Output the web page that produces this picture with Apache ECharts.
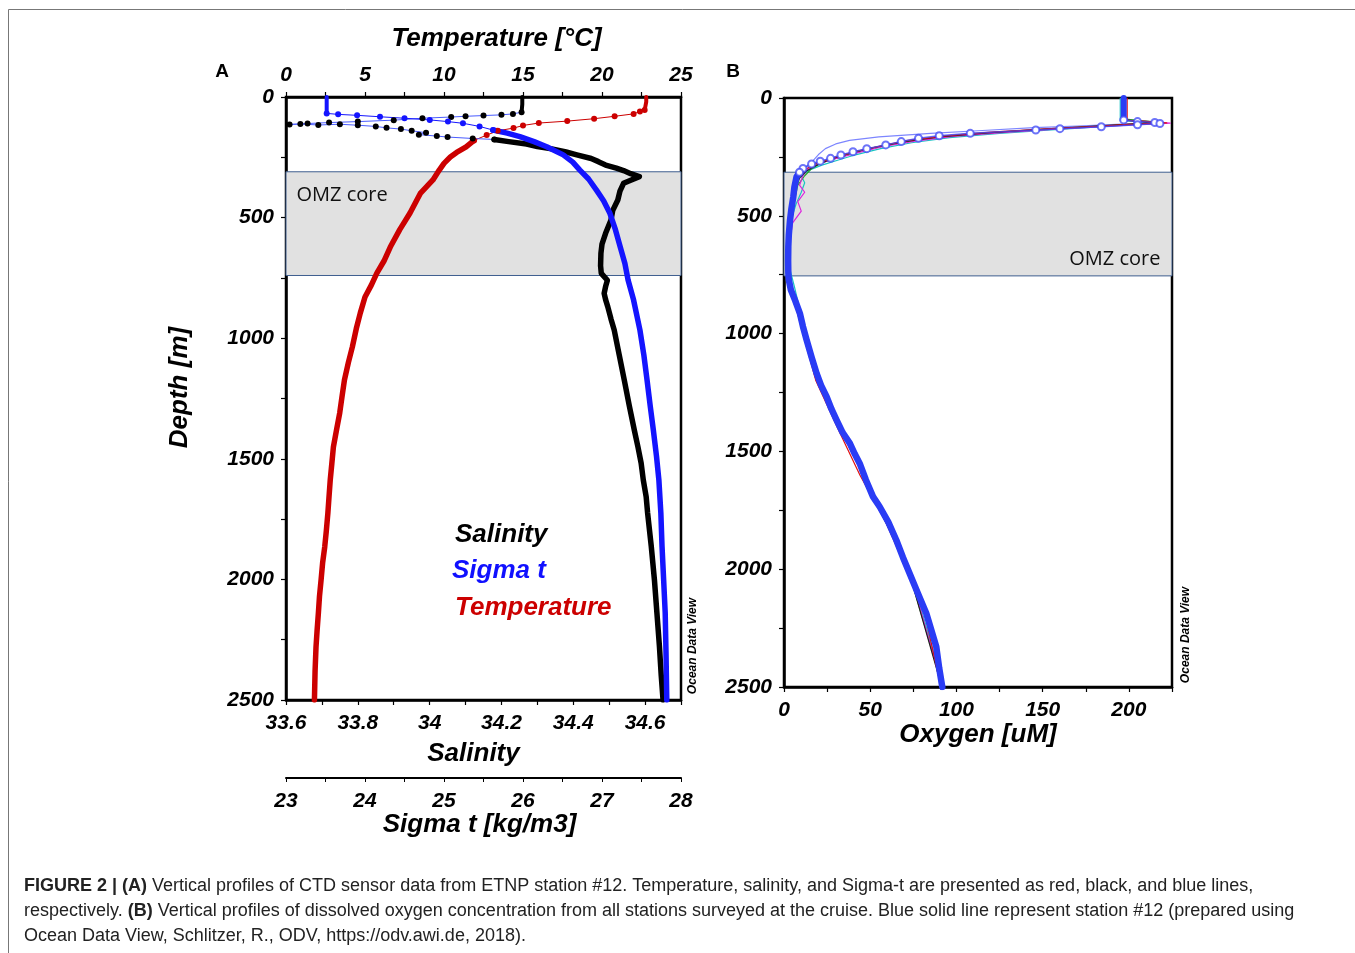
<!DOCTYPE html>
<html><head><meta charset="utf-8">
<script src="https://cdn.jsdelivr.net/npm/echarts@6/dist/echarts.min.js"></script>
<style>html,body{margin:0;padding:0;background:#fff}#c{width:1355px;height:953px}</style>
</head><body><div id="c"></div>
<script>
// ---- tick labels ----
const depthTicks = [0, 500, 1000, 1500, 2000, 2500];
const tempTicks = [0, 5, 10, 15, 20, 25];
const salTicks = [33.6, 33.8, 34, 34.2, 34.4, 34.6];
const salMax = 34.7;
const sigmaTicks = [23, 24, 25, 26, 27, 28];
const oxyTicks = [0, 50, 100, 150, 200];
const oxyMax = 225;

// ---- OMZ core band (depth m) ----
const omzA = [310, 740];
const omzB = [315, 755];

// ---- Panel A: station #12 CTD profiles  [depth m, value] ----
const temperature = [[0,22.8],[20,22.8],[54,22.7],[60,22.4],[70,22.0],[80,20.8],[90,19.5],[100,17.8],[108,16.0],[118,15.0],[129,14.4],[140,13.4],[158,12.7],[180,11.9],[207,11.4],[230,10.8],[249,10.4],[275,10.0],[303,9.7],[344,9.3],[400,8.5],[481,7.85],[550,7.2],[622,6.6],[680,6.2],[730,5.75],[780,5.4],[829,5.0],[896,4.7],[960,4.45],[1036,4.2],[1100,3.95],[1173,3.7],[1240,3.55],[1310,3.4],[1380,3.2],[1451,3.0],[1520,2.9],[1588,2.8],[1660,2.72],[1725,2.65],[1800,2.55],[1866,2.45],[1930,2.32],[2002,2.22],[2070,2.12],[2139,2.05],[2210,1.97],[2280,1.9],[2380,1.84],[2500,1.8]];
const salinity = [[0,34.258],[30,34.258],[63,34.256],[70,34.232],[74,34.2],[77,34.15],[80,34.1],[83,34.06],[88,33.98],[96,33.9],[102,33.8],[106,33.72],[110,33.66],[114,33.61],[112,33.64],[116,33.69],[113,33.75],[117,33.8],[122,33.85],[128,33.88],[133,33.92],[140,33.95],[148,33.99],[156,33.97],[162,34.02],[166,34.05],[172,34.12],[176,34.18],[185,34.22],[195,34.27],[205,34.3],[215,34.34],[228,34.38],[240,34.41],[255,34.45],[268,34.47],[282,34.49],[295,34.52],[305,34.54],[318,34.56],[330,34.584],[345,34.56],[358,34.54],[390,34.53],[427,34.524],[470,34.51],[510,34.505],[565,34.49],[610,34.48],[648,34.477],[700,34.476],[731,34.478],[760,34.495],[786,34.49],[814,34.486],[840,34.49],[869,34.496],[920,34.505],[966,34.514],[1070,34.528],[1173,34.542],[1280,34.556],[1381,34.57],[1450,34.58],[1518,34.589],[1588,34.595],[1657,34.603],[1725,34.607],[1860,34.617],[2002,34.626],[2140,34.633],[2279,34.64],[2400,34.645],[2500,34.65]];
const sigmaT = [[0,23.515],[40,23.515],[68,23.515],[72,23.66],[76,23.9],[82,24.19],[88,24.5],[95,24.82],[102,25.05],[109,25.24],[122,25.45],[137,25.62],[150,25.8],[164,25.96],[185,26.14],[206,26.3],[240,26.51],[270,26.63],[303,26.72],[340,26.83],[386,26.93],[430,27.02],[482,27.1],[550,27.17],[621,27.23],[690,27.29],[759,27.33],[842,27.4],[966,27.48],[1070,27.53],[1173,27.57],[1280,27.61],[1381,27.65],[1490,27.69],[1588,27.72],[1725,27.745],[1864,27.76],[2000,27.78],[2139,27.8],[2300,27.81],[2500,27.82]];

// ---- Panel B: dissolved oxygen [depth m, uM] ----
const oxyStation12 = [[0,197],[50,197],[93,197],[100,205],[104,215],[108,218],[114,205],[122,184],[130,160],[136,146],[150,108],[160,90],[171,78],[185,68],[199,59],[215,48],[228,40],[242,33],[256,27],[268,21],[280,16],[299,11],[315,9],[334,7.3],[380,6],[419,5.4],[470,4.3],[518,3.5],[580,2.8],[631,2.5],[690,2.4],[744,2.5],[772,2.8],[815,4.0],[860,6.5],[914,9.2],[970,11],[1027,13.1],[1100,16],[1169,18.9],[1220,21.5],[1268,24.7],[1320,27.5],[1367,30.5],[1420,34],[1466,38.2],[1510,41],[1551,43.9],[1621,47.5],[1692,51.6],[1735,55.5],[1800,60.5],[1876,65.1],[1950,69],[2017,72.8],[2100,77.5],[2187,82.5],[2260,85.5],[2329,88.3],[2420,90],[2500,91.8]];
const oxyRed = [[0,199],[95,199],[100,212],[106,222],[112,200],[120,182],[130,155],[145,120],[160,95],[180,72],[205,55],[230,40],[255,28],[280,18],[300,13],[330,9],[380,6],[450,4.5],[550,3],[650,2.3],[750,2.2],[850,5.5],[1000,11],[1200,18.5],[1400,31],[1600,44],[1800,59],[2000,71],[2200,82],[2500,91]];
const oxyGreen = [[0,198],[90,198],[98,210],[104,220],[110,205],[118,188],[128,165],[140,135],[155,108],[175,80],[200,60],[225,45],[250,33],[275,22],[300,16],[330,12],[370,8],[420,6.5],[500,4.5],[600,3.2],[700,2.8],[800,4.5],[1000,12],[1200,19.5],[1500,40],[2000,72],[2500,92]];
const oxyBlack = [[0,196],[92,196],[100,208],[106,214],[112,198],[120,178],[132,150],[148,118],[165,90],[185,70],[210,52],[235,38],[260,27],[285,19],[310,13],[340,9],[400,6],[480,4],[580,3],[700,2.5],[820,4.8],[1000,11.5],[1200,19],[1500,39.5],[2000,72],[2500,91.5]];
const oxyCyan = [[0,195],[96,195],[102,209],[108,217],[114,200],[124,180],[135,155],[150,125],[168,96],[190,74],[215,56],[240,42],[262,32],[285,22],[305,15],[330,10],[360,12],[400,10],[450,7],[520,4],[620,3],[720,3.2],[800,6],[1000,12.5],[1200,20],[1500,40.5],[2000,73],[2500,92.5]];
const oxyMagenta = [[0,198],[94,198],[101,213],[107,224],[113,205],[121,186],[131,160],[146,128],[163,98],[183,76],[207,57],[232,43],[257,30],[280,20],[300,14],[330,11],[370,9],[400,12],[440,8],[480,10],[530,5],[600,3.5],[700,2.6],[800,4.2],[1000,11],[1200,18.8],[1500,39],[2000,72.5],[2500,91.8]];
const oxyLightBlue = [[0,197],[92,197],[99,211],[105,219],[111,196],[119,170],[126,145],[138,115],[150,85],[165,55],[180,38],[195,30],[215,24],[240,20],[265,17],[290,13],[310,9],[350,6],[420,4.5],[520,3.5],[640,2.8],[760,3],[850,6],[1000,12],[1200,19.5],[1500,40],[2000,72.5],[2500,92]];

// ---------------------------------------------------------------
const FONT = '"Liberation Sans", Arial, Helvetica, sans-serif';
const lab = {fontFamily: FONT, fontSize: 21, fontWeight: 'bold', fontStyle: 'italic', color: '#000'};
const nameStyle = pad => ({fontFamily: FONT, fontSize: 26, fontWeight: 'bold', fontStyle: 'italic', color: '#000', padding: pad || 0});
const fmt = ticks => v => { const t = ticks.find(t => Math.abs(t - v) < 1e-6); return t === undefined ? '' : String(t); };
const step = t => +((t[1] - t[0]) / 2).toFixed(6);

function axis(extra) {
  return Object.assign({
    type: 'value', splitLine: {show: false}, nameMoveOverlap: false,
    axisLine: {show: true, onZero: false, lineStyle: {color: '#000', width: 2.5}},
    axisTick: {show: true, length: 5, lineStyle: {color: '#000', width: 1.2}}
  }, extra);
}
const xy = arr => arr.map(p => [p[1], p[0]]);
function split(arr, lo, hi) {
  return {
    top: arr.filter(p => p[0] <= lo),
    mid: arr.filter(p => p[0] >= lo && p[0] <= hi),
    bot: arr.filter(p => p[0] >= hi)
  };
}
function thick(data, color, xi, yi, w, z) {
  return {type: 'line', xAxisIndex: xi, yAxisIndex: yi, data: xy(data), showSymbol: false, symbol: 'none',
    lineStyle: {color, width: w, cap: 'round', join: 'round'}, z: z || 3, silent: true};
}
function dots(data, color, xi, yi, lineColor, z) {
  return {type: 'line', xAxisIndex: xi, yAxisIndex: yi, data: xy(data), showSymbol: true, symbol: 'circle', symbolSize: 6,
    itemStyle: {color}, lineStyle: {color: lineColor || color, width: 1}, z: z || 3, silent: true};
}
function band(range, xi, yi, pos, dist, off) {
  return {type: 'line', xAxisIndex: xi, yAxisIndex: yi, data: [[NaN, NaN]], symbol: 'none', z: 1, silent: true,
    lineStyle: {opacity: 0},
    markArea: {silent: true,
      itemStyle: {color: '#e1e1e1', borderColor: '#3f5f8f', borderWidth: 1},
      label: {show: true, position: pos, distance: dist, offset: off, formatter: 'OMZ core', fontFamily: '"Open Sans", "Noto Sans", sans-serif', fontSize: 20, color: '#111'},
      data: [[{yAxis: range[0]}, {yAxis: range[1]}]]}};
}

const T = split(temperature, 54, 180);
const S = split(salinity, 63, 176);
const G = split(sigmaT, 68, 137);
const O = split(oxyStation12, 93, 315);

const RED = '#cc0000', BLUE = '#1414ff', BLK = '#000';

const option = {
  animation: false,
  backgroundColor: '#fff',
  grid: [
    {left: 286, top: 97, width: 395, height: 603, show: true, borderColor: '#000', borderWidth: 2.5, backgroundColor: 'transparent'},
    {left: 784, top: 98, width: 388, height: 589, show: true, borderColor: '#000', borderWidth: 2.5, backgroundColor: 'transparent'}
  ],
  xAxis: [
    axis({gridIndex: 0, position: 'top', min: tempTicks[0], max: tempTicks[tempTicks.length - 1], interval: step(tempTicks),
      axisLabel: Object.assign({formatter: fmt(tempTicks), margin: 11}, lab),
      name: 'Temperature [°C]', nameLocation: 'middle', nameGap: 45, nameTextStyle: nameStyle([0, 0, 0, 26])}),
    axis({gridIndex: 0, position: 'bottom', min: salTicks[0], max: salMax, interval: step(salTicks),
      axisLabel: Object.assign({formatter: fmt(salTicks), margin: 13}, lab),
      name: 'Salinity', nameLocation: 'middle', nameGap: 41, nameTextStyle: nameStyle([0, 20, 0, 0])}),
    axis({gridIndex: 0, position: 'bottom', offset: 78, min: sigmaTicks[0], max: sigmaTicks[sigmaTicks.length - 1], interval: step(sigmaTicks),
      axisLine: {show: true, onZero: false, lineStyle: {color: '#000', width: 2}},
      axisTick: {show: true, length: 4, lineStyle: {color: '#000', width: 1}},
      axisLabel: Object.assign({formatter: fmt(sigmaTicks), margin: 13}, lab),
      name: 'Sigma t [kg/m3]', nameLocation: 'middle', nameGap: 34, nameTextStyle: nameStyle([0, 8, 0, 0])}),
    axis({gridIndex: 1, position: 'bottom', min: oxyTicks[0], max: oxyMax, interval: step(oxyTicks),
      axisLabel: Object.assign({formatter: fmt(oxyTicks), margin: 13}, lab),
      name: 'Oxygen [uM]', nameLocation: 'middle', nameGap: 35, nameTextStyle: nameStyle()})
  ],
  yAxis: [
    axis({gridIndex: 0, inverse: true, min: depthTicks[0], max: depthTicks[depthTicks.length - 1], interval: step(depthTicks),
      axisLabel: Object.assign({formatter: fmt(depthTicks), margin: 12}, lab),
      name: 'Depth [m]', nameLocation: 'middle', nameGap: 93, nameTextStyle: nameStyle([0, 0, 0, 22])}),
    axis({gridIndex: 1, inverse: true, min: depthTicks[0], max: depthTicks[depthTicks.length - 1], interval: step(depthTicks),
      axisLabel: Object.assign({formatter: fmt(depthTicks), margin: 12}, lab)})
  ],
  series: [
    band(omzA, 0, 0, 'insideTopLeft', 11, [0, 3]),
    band(omzB, 3, 1, 'insideBottomRight', 10, [-2, 3]),
    // Panel A
    thick(T.top, RED, 0, 0, 4), dots(T.mid, RED, 0, 0), thick(T.bot, RED, 0, 0, 5.5),
    thick(S.top, BLK, 1, 0, 4), dots(S.mid, BLK, 1, 0, '#4a5cff'), thick(S.bot, BLK, 1, 0, 5.5),
    thick(G.top, BLUE, 2, 0, 4), dots(G.mid, BLUE, 2, 0), thick(G.bot, BLUE, 2, 0, 5.5),
    // Panel B
    thick(oxyLightBlue, '#7d86ff', 3, 1, 1.2, 2),
    thick(oxyCyan, '#19c4c4', 3, 1, 1.2, 2),
    thick(oxyGreen, '#22aa22', 3, 1, 1.2, 2),
    thick(oxyMagenta, '#dd22dd', 3, 1, 1.2, 2),
    thick(oxyBlack, '#222', 3, 1, 1.2, 2),
    thick(oxyRed, '#e01010', 3, 1, 1.2, 2),
    thick(O.top, '#2a3cf5', 3, 1, 6, 3),
    {type: 'line', xAxisIndex: 3, yAxisIndex: 1, data: xy(O.mid), showSymbol: true, symbol: 'emptyCircle', symbolSize: 7,
      itemStyle: {color: 'rgba(60,70,245,0.75)', borderWidth: 1.2}, lineStyle: {color: 'rgba(60,70,245,0.8)', width: 1.5}, z: 3, silent: true},
    thick(O.bot, '#2a3cf5', 3, 1, 6.5, 3)
  ],
  graphic: [
    {type: 'rect', shape: {x: 8.5, y: 9.5, width: 1400, height: 1000}, style: {fill: 'none', stroke: '#777', lineWidth: 1}, silent: true},
    {type: 'text', style: {text: 'A', x: 222, y: 72, fontFamily: FONT, fontSize: 19, fontWeight: 'bold', fill: '#000', align: 'center', verticalAlign: 'middle'}},
    {type: 'text', style: {text: 'B', x: 733, y: 72, fontFamily: FONT, fontSize: 19, fontWeight: 'bold', fill: '#000', align: 'center', verticalAlign: 'middle'}},
    {type: 'text', style: {text: 'Salinity', x: 455, y: 535, fontFamily: FONT, fontSize: 26, fontWeight: 'bold', fontStyle: 'italic', fill: '#000', align: 'left', verticalAlign: 'middle'}},
    {type: 'text', style: {text: 'Sigma t', x: 452, y: 571, fontFamily: FONT, fontSize: 26, fontWeight: 'bold', fontStyle: 'italic', fill: '#1010ff', align: 'left', verticalAlign: 'middle'}},
    {type: 'text', style: {text: 'Temperature', x: 455, y: 608, fontFamily: FONT, fontSize: 26, fontWeight: 'bold', fontStyle: 'italic', fill: '#cc0000', align: 'left', verticalAlign: 'middle'}},
    {type: 'text', x: 693, y: 646, rotation: Math.PI / 2, style: {text: 'Ocean Data View', x: 0, y: 0, fontFamily: FONT, fontSize: 12, fontWeight: 'bold', fontStyle: 'italic', fill: '#000', align: 'center', verticalAlign: 'middle'}},
    {type: 'text', x: 1186, y: 635, rotation: Math.PI / 2, style: {text: 'Ocean Data View', x: 0, y: 0, fontFamily: FONT, fontSize: 12, fontWeight: 'bold', fontStyle: 'italic', fill: '#000', align: 'center', verticalAlign: 'middle'}},
    {type: 'text', style: {
      x: 24, y: 874, fontFamily: FONT, fontSize: 18, fill: '#222', lineHeight: 25, align: 'left', verticalAlign: 'top',
      text: '{b|FIGURE 2 | (A)} Vertical profiles of CTD sensor data from ETNP station #12. Temperature, salinity, and Sigma-t are presented as red, black, and blue lines,\n' +
            'respectively. {b|(B)} Vertical profiles of dissolved oxygen concentration from all stations surveyed at the cruise. Blue solid line represent station #12 (prepared using\n' +
            'Ocean Data View, Schlitzer, R., ODV, https://odv.awi.de, 2018).',
      rich: {b: {fontFamily: FONT, fontSize: 18, fontWeight: 'bold', fill: '#222', lineHeight: 25}}
    }}
  ]
};
const chart = echarts.init(document.getElementById('c'), null, {renderer: 'canvas'});
chart.setOption(option);
</script></body></html>
